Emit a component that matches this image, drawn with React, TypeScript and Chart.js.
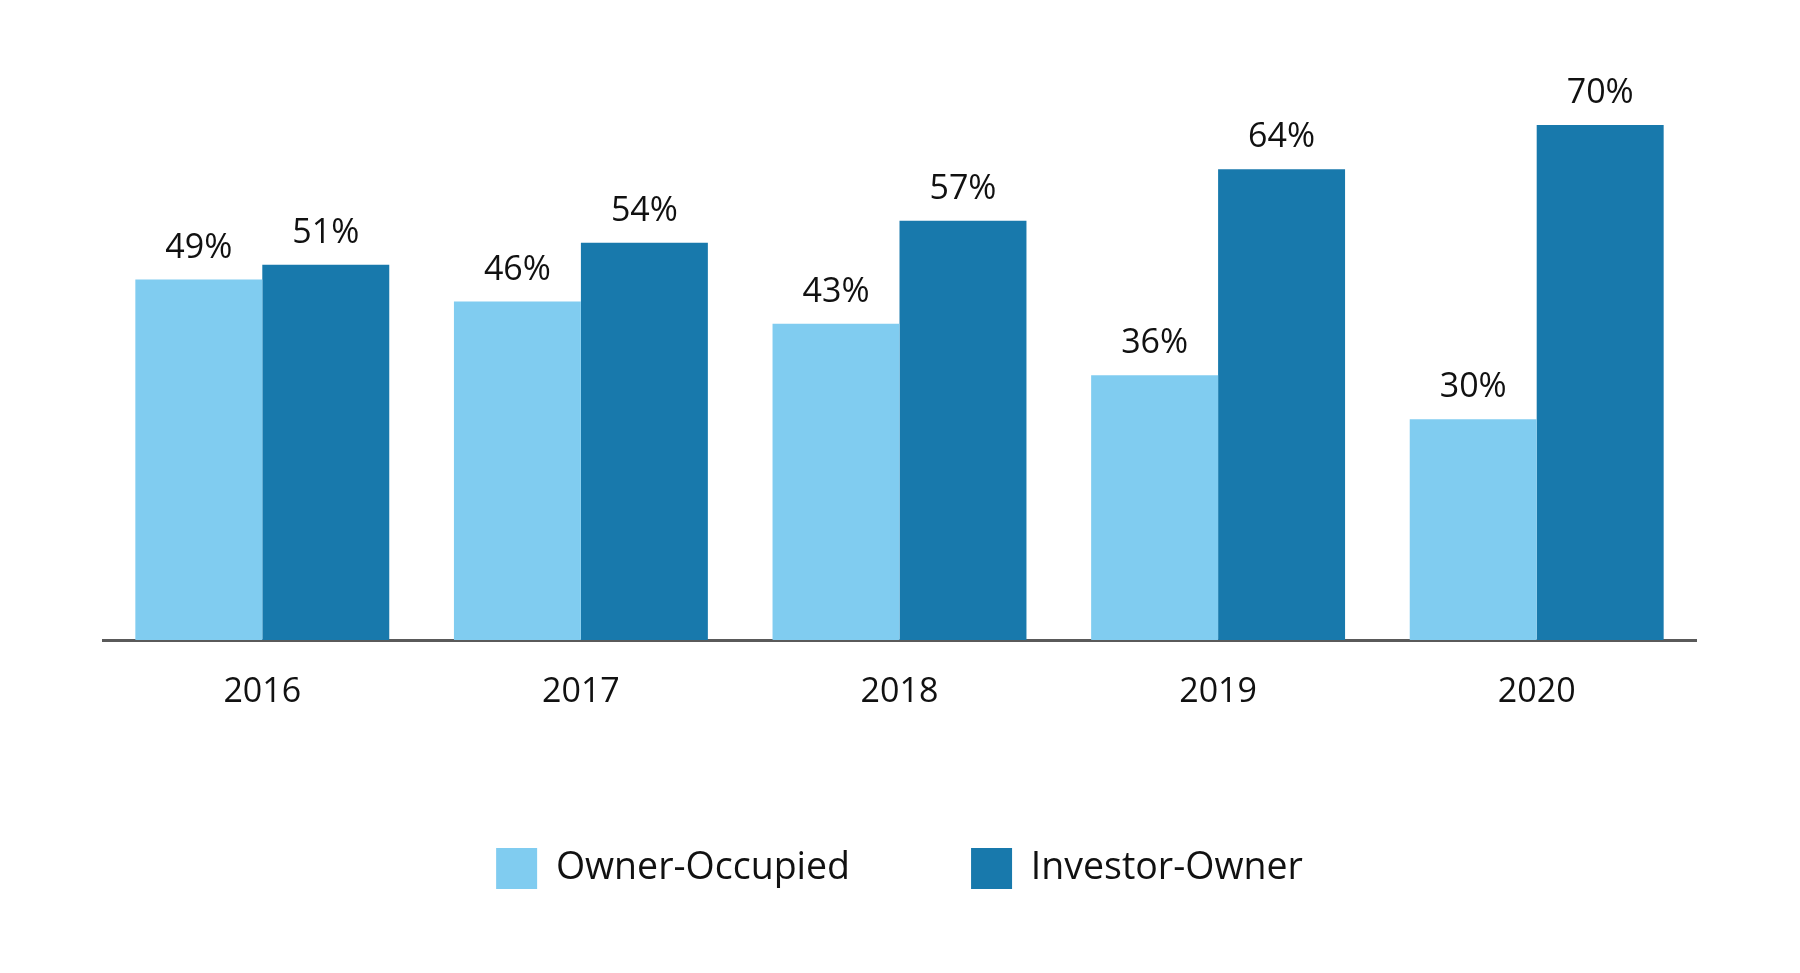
import Chart from 'chart.js/auto';
import { useEffect, useRef } from 'react';

const years = ['2016', '2017', '2018', '2019', '2020'];
const ownerOccupied = [49, 46, 43, 36, 30];
const investorOwner = [51, 54, 57, 64, 70];

const FONT = '"Open Sans", "Noto Sans", sans-serif';

// draws the "49%" style labels above each bar
const barLabels = {
  id: 'barLabels',
  afterDatasetsDraw(chart: Chart) {
    const ctx = chart.ctx;
    ctx.save();
    ctx.font = `34px ${FONT}`;
    ctx.fillStyle = '#111111';
    ctx.textAlign = 'center';
    ctx.textBaseline = 'alphabetic';
    chart.data.datasets.forEach((ds, i) => {
      const meta = chart.getDatasetMeta(i);
      meta.data.forEach((bar: any, j: number) => {
        ctx.fillText(`${ds.data[j]}%`, bar.x, bar.y - 22);
      });
    });
    ctx.restore();
  },
};

export default function App() {
  const chartRef = useRef<HTMLCanvasElement | null>(null);

  useEffect(() => {
    if (!chartRef.current) return;
    const chart = new Chart(chartRef.current, {
      type: 'bar',
      data: {
        labels: years,
        datasets: [
          {
            label: 'Owner-Occupied',
            data: ownerOccupied,
            backgroundColor: '#80CCF0',
            barPercentage: 1,
            categoryPercentage: 0.797,
          },
          {
            label: 'Investor-Owner',
            data: investorOwner,
            backgroundColor: '#1879AC',
            barPercentage: 1,
            categoryPercentage: 0.797,
          },
        ],
      },
      options: {
        responsive: false,
        animation: false,
        layout: { padding: { top: 125, left: 103, right: 104, bottom: 74 } },
        scales: {
          x: {
            grid: { display: false, drawTicks: false },
            border: { display: true, color: '#5a5a5a', width: 3 },
            ticks: {
              color: '#111111',
              padding: 32,
              font: { family: FONT, size: 34, lineHeight: 1.2 },
            },
            afterFit(scale: any) {
              scale.height = 87;
            },
          },
          y: {
            display: false,
            min: 0,
            max: 70,
          },
        },
        plugins: {
          legend: {
            position: 'bottom',
            labels: {
              boxWidth: 41,
              boxHeight: 41,
              padding: 121,
              color: '#111111',
              font: { family: FONT, size: 37.5 },
            },
          },
          tooltip: { enabled: false },
        },
      },
      plugins: [barLabels],
    });

    return () => chart.destroy();
  }, []);

  return (
    <div style={{ position: 'absolute', left: 0, top: 0, width: 1800, height: 973, background: '#fff' }}>
      <canvas ref={chartRef} width={1800} height={973} style={{ display: 'block' }}></canvas>
    </div>
  );
}
